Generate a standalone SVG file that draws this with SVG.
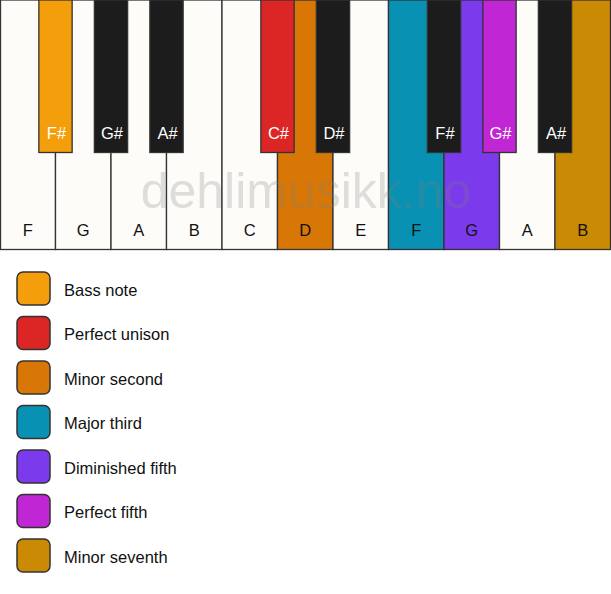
<svg xmlns="http://www.w3.org/2000/svg" width="611" height="594" viewBox="0 0 611 594">
<style>
.w{fill:#fdfcf9;stroke:#333;stroke-width:1.3}
.b{fill:#1c1c1c;stroke:#333;stroke-width:1.3}
.lw{font-family:"Liberation Sans",Arial,sans-serif;font-size:16.5px;fill:#111;text-anchor:middle}
.lb{font-family:"Liberation Sans",Arial,sans-serif;font-size:16.5px;fill:#fff;text-anchor:middle}
.sw{stroke:#333;stroke-width:1.5}
.lg{font-family:"Liberation Sans",Arial,sans-serif;font-size:16.5px;fill:#111}
.wm{font-family:"Liberation Sans",Arial,sans-serif;font-size:50px;fill:#808080;fill-opacity:0.25;text-anchor:middle}
</style>
<rect width="611" height="594" fill="#fff"/>
<g id="white-keys">
<g id="key-F1"><rect class="w" x="0.5" y="0" width="55" height="249.5"/></g>
<g id="key-G1"><rect class="w" x="55.5" y="0" width="55.5" height="249.5"/></g>
<g id="key-A1"><rect class="w" x="111" y="0" width="55.5" height="249.5"/></g>
<g id="key-B1"><rect class="w" x="166.5" y="0" width="55.5" height="249.5"/></g>
<g id="key-C"><rect class="w" x="222" y="0" width="55.5" height="249.5"/></g>
<g id="key-D"><rect class="w" x="277.5" y="0" width="55.5" height="249.5" style="fill:#d97706"/></g>
<g id="key-E"><rect class="w" x="333" y="0" width="55.5" height="249.5"/></g>
<g id="key-F2"><rect class="w" x="388.5" y="0" width="55.5" height="249.5" style="fill:#0891b2"/></g>
<g id="key-G2"><rect class="w" x="444" y="0" width="55.5" height="249.5" style="fill:#7c3aed"/></g>
<g id="key-A2"><rect class="w" x="499.5" y="0" width="55.5" height="249.5"/></g>
<g id="key-B2"><rect class="w" x="555" y="0" width="55.5" height="249.5" style="fill:#ca8a04"/></g>
</g>
<g id="white-labels">
<text class="lw" x="27.75" y="236">F</text>
<text class="lw" x="83.25" y="236">G</text>
<text class="lw" x="138.75" y="236">A</text>
<text class="lw" x="194.25" y="236">B</text>
<text class="lw" x="249.75" y="236">C</text>
<text class="lw" x="305.25" y="236">D</text>
<text class="lw" x="360.75" y="236">E</text>
<text class="lw" x="416.25" y="236">F</text>
<text class="lw" x="471.75" y="236">G</text>
<text class="lw" x="527.25" y="236">A</text>
<text class="lw" x="582.75" y="236">B</text>
</g>
<g id="black-keys">
<g id="key-Fs1"><rect class="b" x="38.85" y="0" width="33.3" height="152.5" style="fill:#f59e0b"/><text class="lb" x="56.5" y="138.5">F#</text></g>
<g id="key-Gs1"><rect class="b" x="94.35" y="0" width="33.3" height="152.5"/><text class="lb" x="112" y="138.5">G#</text></g>
<g id="key-As1"><rect class="b" x="149.85" y="0" width="33.3" height="152.5"/><text class="lb" x="167.5" y="138.5">A#</text></g>
<g id="key-Cs"><rect class="b" x="260.85" y="0" width="33.3" height="152.5" style="fill:#dc2626"/><text class="lb" x="278.5" y="138.5">C#</text></g>
<g id="key-Ds"><rect class="b" x="316.35" y="0" width="33.3" height="152.5"/><text class="lb" x="334" y="138.5">D#</text></g>
<g id="key-Fs2"><rect class="b" x="427.35" y="0" width="33.3" height="152.5"/><text class="lb" x="445" y="138.5">F#</text></g>
<g id="key-Gs2"><rect class="b" x="482.85" y="0" width="33.3" height="152.5" style="fill:#c026d3"/><text class="lb" x="500.5" y="138.5">G#</text></g>
<g id="key-As2"><rect class="b" x="538.35" y="0" width="33.3" height="152.5"/><text class="lb" x="556" y="138.5">A#</text></g>
</g>
<text class="wm" x="306" y="208">dehlimusikk.no</text>
<g id="legend">
<g id="leg-bass"><rect class="sw" x="17" y="272" width="33" height="33" rx="6" fill="#f59e0b"/><text class="lg" x="64" y="295.5">Bass note</text></g>
<g id="leg-unison"><rect class="sw" x="17" y="316.5" width="33" height="33" rx="6" fill="#dc2626"/><text class="lg" x="64" y="340">Perfect unison</text></g>
<g id="leg-m2"><rect class="sw" x="17" y="361" width="33" height="33" rx="6" fill="#d97706"/><text class="lg" x="64" y="384.5">Minor second</text></g>
<g id="leg-M3"><rect class="sw" x="17" y="405.5" width="33" height="33" rx="6" fill="#0891b2"/><text class="lg" x="64" y="429">Major third</text></g>
<g id="leg-d5"><rect class="sw" x="17" y="450" width="33" height="33" rx="6" fill="#7c3aed"/><text class="lg" x="64" y="473.5">Diminished fifth</text></g>
<g id="leg-P5"><rect class="sw" x="17" y="494.5" width="33" height="33" rx="6" fill="#c026d3"/><text class="lg" x="64" y="518">Perfect fifth</text></g>
<g id="leg-m7"><rect class="sw" x="17" y="539" width="33" height="33" rx="6" fill="#ca8a04"/><text class="lg" x="64" y="562.5">Minor seventh</text></g>
</g>
</svg>
